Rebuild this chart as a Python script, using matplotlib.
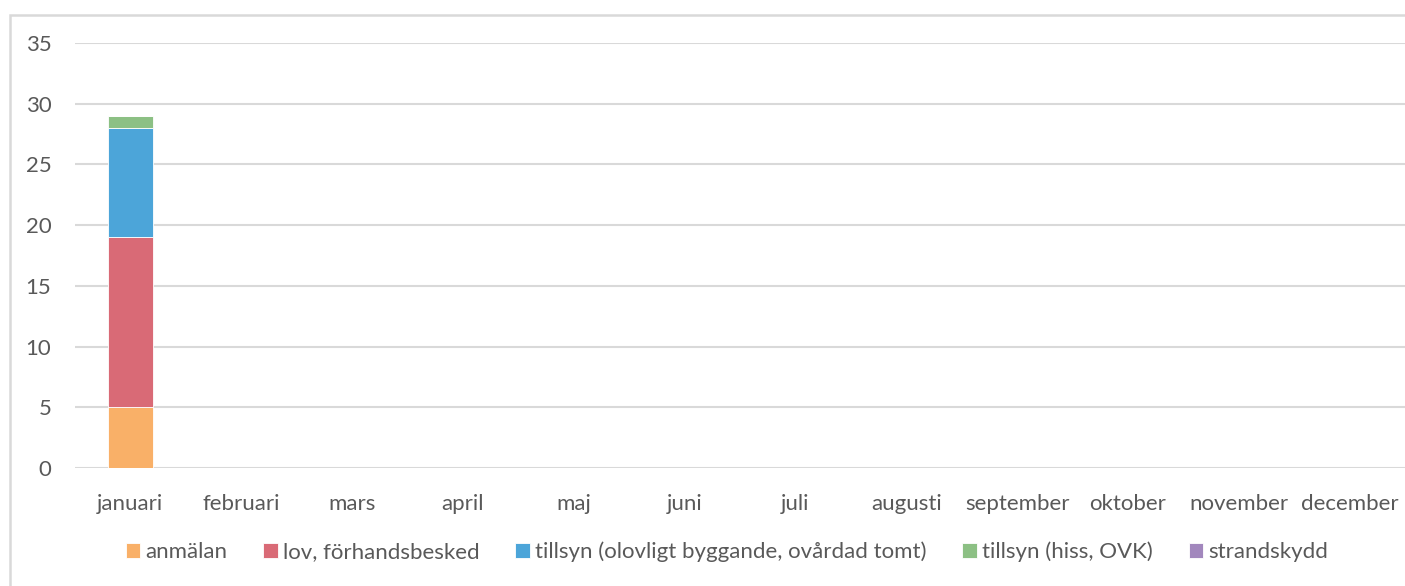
import numpy as np
import matplotlib.pyplot as plt
from matplotlib.patches import Rectangle

plt.rcParams['font.family'] = ['Lato', 'DejaVu Sans']

months = ["januari", "februari", "mars", "april", "maj", "juni", "juli",
          "augusti", "september", "oktober", "november", "december"]
series_names = ["anmälan", "lov, förhandsbesked",
                "tillsyn (olovligt byggande, ovårdad tomt)",
                "tillsyn (hiss, OVK)", "strandskydd"]
anmalan = [5, 0, 0, 0, 0, 0, 0, 0, 0, 0, 0, 0]
lov = [14, 0, 0, 0, 0, 0, 0, 0, 0, 0, 0, 0]
tillsyn_olovligt = [9, 0, 0, 0, 0, 0, 0, 0, 0, 0, 0, 0]
tillsyn_hiss = [1, 0, 0, 0, 0, 0, 0, 0, 0, 0, 0, 0]
strandskydd = [0, 0, 0, 0, 0, 0, 0, 0, 0, 0, 0, 0]
colors = ["#F9B068", "#D96A76", "#4CA5D9", "#8CC084", "#A287BD"]

text_color = "#595959"
grid_color = "#D9D9D9"

fig = plt.figure(figsize=(14.05, 5.86), dpi=100)
ax = fig.add_axes([75 / 1405, 1 - 468 / 586, 1 - 75 / 1405, (468 - 43) / 586])

# chart border
fig.patches.append(Rectangle((10 / 1405, -0.05), 1.0, 1 - 15 / 586 + 0.05,
                             transform=fig.transFigure, fill=False,
                             edgecolor=grid_color, linewidth=1.8))

x = np.arange(len(months))
bottom = np.zeros(len(months))
for name, vals, c in zip(series_names,
                         [anmalan, lov, tillsyn_olovligt, tillsyn_hiss, strandskydd],
                         colors):
    ax.bar(x, vals, width=0.4, bottom=bottom, color=c, label=name,
           edgecolor="white", linewidth=0.6, zorder=3)
    bottom += np.array(vals)

ax.set_xlim(-0.5, 11.5)
ax.set_ylim(0, 35)
ax.set_yticks(np.arange(0, 36, 5))
ax.set_xticks(x)
ax.set_xticklabels(months)
ax.yaxis.grid(True, color=grid_color, linewidth=1.5)
ax.set_axisbelow(True)
for s in ax.spines.values():
    s.set_visible(False)
ax.tick_params(length=0, labelsize=16, colors=text_color)
ax.tick_params(axis='y', pad=17)
ax.tick_params(axis='x', pad=19)

leg = fig.legend(loc="center", bbox_to_anchor=(727 / 1405, 1 - 552 / 586), ncol=5,
                 frameon=False, fontsize=16, handlelength=0.65, handleheight=0.65,
                 handletextpad=0.25, columnspacing=1.6)
for t in leg.get_texts():
    t.set_color(text_color)

fig.savefig("out.png", dpi=100)
